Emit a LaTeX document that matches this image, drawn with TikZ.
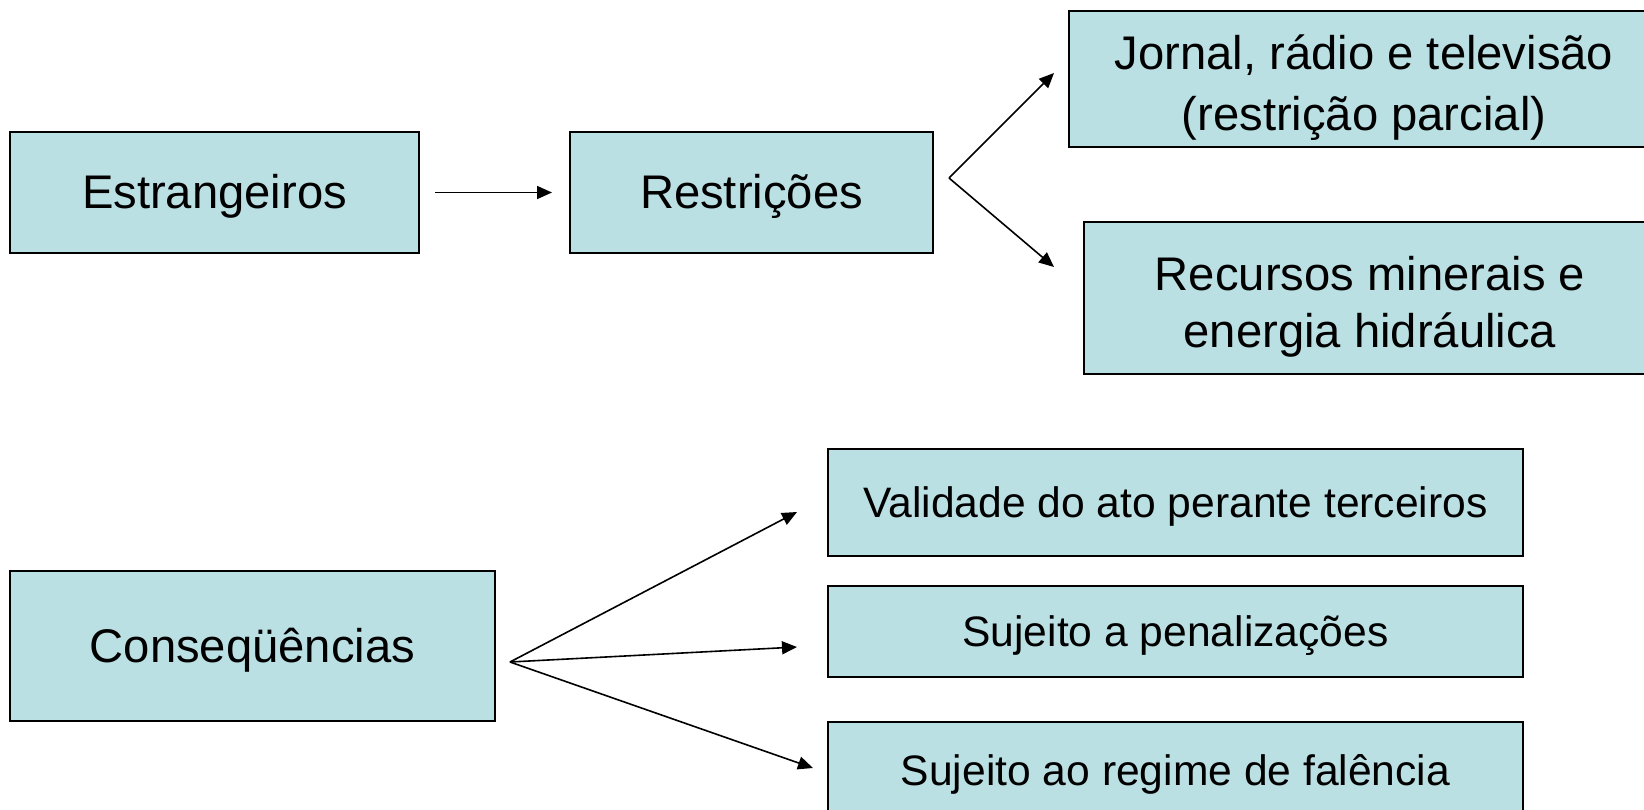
\documentclass[tikz,border=0pt]{standalone}
\usepackage{fontspec}
\setmainfont{Liberation Sans}
\usetikzlibrary{arrows.meta}
\definecolor{boxfill}{RGB}{187,224,227}
\newcommand{\linestrut}{\rule[-0.212em]{0pt}{1.117em}}
% two centred lines, lowered a little as in the slide
\newcommand{\twolines}[4]{\raisebox{#1}[\height][\depth]{\renewcommand\arraystretch{#2}\begin{tabular}{@{}c@{}}#3\\#4\end{tabular}}}
\tikzset{
  box/.style={draw=black, line width=1pt, fill=boxfill, align=center, inner sep=0pt,
    execute at begin node=\linestrut, execute at end node=\linestrut},
  bigtext/.style={font=\fontsize{23.6pt}{29pt}\selectfont},
  smalltext/.style={font=\fontsize{21.3pt}{26pt}\selectfont},
  arr/.style={->, line width=0.8pt},
}
\begin{document}
\begin{tikzpicture}[x=0.5pt, y=-0.5pt, >={Triangle[length=7.5pt,width=6.5pt]}]
        \useasboundingbox (0,0) rectangle (1644,809);
        % upper row
		\node[box, bigtext, minimum width=204.5pt, minimum height=60.5pt] (estr) at (214.5, 192.5) {Estrangeiros};
		\node[box, bigtext, minimum width=181.5pt, minimum height=60.5pt] (restr) at (751.5, 192.5) {Restrições};
		\node[box, bigtext, minimum width=295pt, minimum height=68pt] (jornal) at (1364, 79) {\twolines{-4.5pt}{1.05}{Jornal, rádio e televisão}{(restrição parcial)}};
		\node[box, bigtext, minimum width=286pt, minimum height=76pt] (recursos) at (1370, 298) {\twolines{-5pt}{0.98}{Recursos minerais e}{energia hidráulica}};
		\coordinate (fork1) at (949, 178);
		\coordinate (tipA) at (1054, 73);
		\coordinate (tipB) at (1054, 267);
		\draw[arr, shorten <=7.5pt, shorten >=8.5pt] (estr) to (restr);
		\draw[arr] (fork1) to (tipA);
		\draw[arr] (fork1) to (tipB);
        % lower row
		\node[box, bigtext, minimum width=242.5pt, minimum height=75pt] (cons) at (252.5, 646) {Conseqüências};
		\node[box, smalltext, minimum width=347.5pt, minimum height=53.5pt] (valid) at (1175.5, 502.5) {Validade do ato perante terceiros};
		\node[box, smalltext, minimum width=347.5pt, minimum height=45.5pt] (penal) at (1175.5, 631.5) {Sujeito a penalizações};
		\node[box, smalltext, minimum width=347.5pt, minimum height=49pt] (regime) at (1175.5, 771) {Sujeito ao regime de falência};
		\coordinate (fork2) at (510, 662);
		\coordinate (tipC) at (797, 512);
		\coordinate (tipD) at (797, 647);
		\coordinate (tipE) at (813, 768);
		\draw[arr] (fork2) to (tipC);
		\draw[arr] (fork2) to (tipD);
		\draw[arr] (fork2) to (tipE);
    \end{tikzpicture}
\end{document}
